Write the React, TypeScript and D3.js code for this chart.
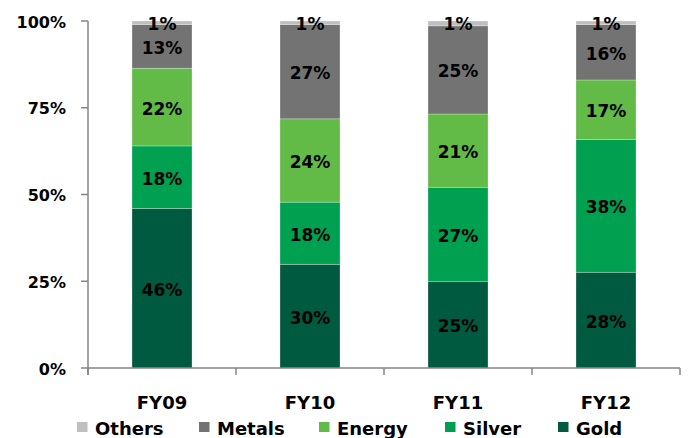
import React from "react";
import * as d3 from "d3";

const categories = ["FY09", "FY10", "FY11", "FY12"];
const seriesNames = ["Gold", "Silver", "Energy", "Metals", "Others"];
const gold = [46.0, 29.9, 25.0, 27.6];
const silver = [18.0, 17.9, 27.1, 38.3];
const energy = [22.4, 24.0, 21.1, 17.1];
const metals = [12.6, 27.2, 25.4, 16.0];
const others = [1.0, 1.0, 1.4, 1.0];
const yTicks = [0, 25, 50, 75, 100];
const legendOrder = ["Others", "Metals", "Energy", "Silver", "Gold"];

const colors: Record<string, string> = {
  Gold: "#005a40",
  Silver: "#00a051",
  Energy: "#62bb46",
  Metals: "#737373",
  Others: "#bfbfbf",
};

const W = 688;
const H = 438;
const left = 88;
const right = 680;
const top = 21;
const bottom = 368;
const barW = 60;
const FONT = "'DejaVu Sans', sans-serif";
const legendX = [77, 199, 319, 445, 558];

export default function App() {
  const rows = categories.map((c, i) => ({
    cat: c,
    Gold: gold[i],
    Silver: silver[i],
    Energy: energy[i],
    Metals: metals[i],
    Others: others[i],
  }));
  const stack = d3.stack<any>().keys(seriesNames)(rows);
  const x = d3.scaleBand().domain(categories).range([left, right]).padding(0);
  const y = d3.scaleLinear().domain([0, 100]).range([bottom, top]);
  const axisColor = "#858585";

  return (
    <svg
      width={W}
      height={H}
      style={{ position: "absolute", left: 0, top: 0, background: "#fff" }}
      fontFamily={FONT}
    >
      {stack.map((s) => (
        <g key={s.key}>
          {s.map((d, i) => {
            const bx = (x(categories[i]) as number) + (x.bandwidth() - barW) / 2;
            return (
              <rect
                key={i}
                x={bx}
                y={y(d[1])}
                width={barW}
                height={y(d[0]) - y(d[1])}
                fill={colors[s.key]}
                stroke="#ffffff"
                strokeOpacity={0.45}
                strokeWidth={0.6}
              />
            );
          })}
        </g>
      ))}
      {stack.map((s) => (
        <g key={"l" + s.key}>
          {s.map((d, i) => {
            const cx = (x(categories[i]) as number) + x.bandwidth() / 2;
            const v = d[1] - d[0];
            const isTop = s.key === "Others";
            const cy = isTop ? y(d[1]) + 3 : (y(d[0]) + y(d[1])) / 2 + 1.5;
            return (
              <text
                key={i}
                x={cx}
                y={cy}
                textAnchor="middle"
                dominantBaseline="central"
                fontSize={17}
                fontWeight="bold"
                fill="#000"
              >
                {Math.round(v) + "%"}
              </text>
            );
          })}
        </g>
      ))}
      {/* y axis */}
      <line x1={left} x2={left} y1={top} y2={bottom + 7} stroke={axisColor} strokeWidth={1.5} />
      {yTicks.map((t) => (
        <g key={t}>
          <line x1={left - 7} x2={left} y1={y(t)} y2={y(t)} stroke={axisColor} strokeWidth={1.5} />
          <text
            x={66}
            y={y(t) + 1}
            textAnchor="end"
            dominantBaseline="central"
            fontSize={16}
            fontWeight="bold"
            fill="#000"
          >
            {t + "%"}
          </text>
        </g>
      ))}
      {/* x axis */}
      <line x1={left} x2={right} y1={bottom} y2={bottom} stroke={axisColor} strokeWidth={1.5} />
      {[...categories.map((c) => x(c) as number), right].map((tx, i) => (
        <line key={i} x1={tx} x2={tx} y1={bottom} y2={bottom + 7} stroke={axisColor} strokeWidth={1.5} />
      ))}
      {categories.map((c) => (
        <text
          key={c}
          x={(x(c) as number) + x.bandwidth() / 2}
          y={402}
          textAnchor="middle"
          dominantBaseline="central"
          fontSize={18}
          fontWeight="bold"
          fill="#000"
        >
          {c}
        </text>
      ))}
      {/* legend */}
      {legendOrder.map((name, i) => (
        <g key={name} transform={`translate(${legendX[i]},0)`}>
          <rect x={0} y={422} width={10.5} height={10} fill={colors[name]} />
          <text x={18} y={428.5} dominantBaseline="central" fontSize={18} fontWeight="bold" fill="#000">
            {name}
          </text>
        </g>
      ))}
    </svg>
  );
}
